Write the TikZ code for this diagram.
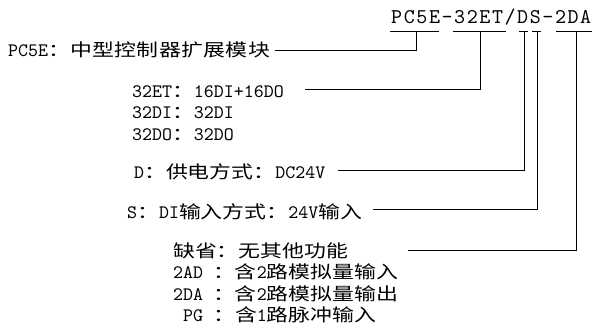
\documentclass[tikz,border=0pt]{standalone}
\usepackage{fontspec}
\newfontfamily\latf{lmmono10-regular.otf}
\newfontfamily\titlef[LetterSpace=7.5]{lmmono10-regular.otf}
\newfontfamily\cjkf[FakeStretch=1.25]{Noto Sans CJK SC}
\newfontfamily\cjkwf[FakeStretch=1.25,LetterSpace=2.0]{Noto Sans CJK SC}
\newcommand\zh[1]{{\fontsize{17.5}{21}\selectfont\cjkf #1}}
\newcommand\zhw[1]{{\fontsize{17.5}{21}\selectfont\cjkwf #1}}
\begin{document}
\begin{tikzpicture}[x=1pt,y=-1pt,
  txt/.style={anchor=base west,inner sep=0pt,font=\fontsize{19}{21}\selectfont\latf},
  titletxt/.style={anchor=base west,inner sep=0pt,font=\fontsize{21}{24}\selectfont\titlef},
  ln/.style={line width=0.9pt}]
\useasboundingbox[fill=white] (0,0) rectangle (593,327);
% title
\node[titletxt] (title) at (391,23.5) {PC5E-32ET/DS-2DA};
% underlines
\coordinate (a1) at (390,31.3); \coordinate (b1) at (439,31.3);
\coordinate (a2) at (453,31.3); \coordinate (b2) at (506,31.3);
\coordinate (a3) at (519,31.3); \coordinate (b3) at (528,31.3);
\coordinate (a4) at (532,31.3); \coordinate (b4) at (541,31.3);
\coordinate (a5) at (556,31.3); \coordinate (b5) at (592,31.3);
\draw[ln] (a1) -- (b1) (a2) -- (b2) (a3) -- (b3) (a4) -- (b4) (a5) -- (b5);
% texts
\node[txt] (r1) at (8,56) {PC5E\zhw{：中型控制器扩展模块}};
\node[txt] (r2a) at (132,97) {32ET\zh{：}16DI+16DO};
\node[txt] (r2b) at (132,118.5) {32DI\zh{：}32DI};
\node[txt] (r2c) at (132,140) {32DO\zh{：}32DO};
\node[txt] (r3) at (134,178) {D\zh{：供电方式：}DC24V};
\node[txt] (r4) at (127,218) {S\zh{：}DI\zh{输入方式：}24V\zh{输入}};
\node[txt] (r5a) at (173,257) {\zh{缺省：无其他功能}};
\node[txt] (r5b) at (173,278.5) {2AD \zh{：含}2\zh{路模拟量输入}};
\node[txt] (r5c) at (173,300) {2DA \zh{：含}2\zh{路模拟量输出}};
\node[txt] (r5d) at (183,321.5) {PG \zh{：含}1\zh{路脉冲输入}};
% connectors
\coordinate (u1) at (416,31.3);   \coordinate (e1) at (275,50);
\coordinate (u2) at (480,31.3);   \coordinate (e2) at (305,89);
\coordinate (u3) at (524.5,31.3); \coordinate (e3) at (338,170);
\coordinate (u4) at (537,31.3);   \coordinate (e4) at (373,209);
\coordinate (u5) at (576,31.3);   \coordinate (e5) at (408,250);
\draw[ln] (e1) -| (u1);
\draw[ln] (e2) -| (u2);
\draw[ln] (e3) -| (u3);
\draw[ln] (e4) -| (u4);
\draw[ln] (e5) -| (u5);
\end{tikzpicture}
\end{document}
